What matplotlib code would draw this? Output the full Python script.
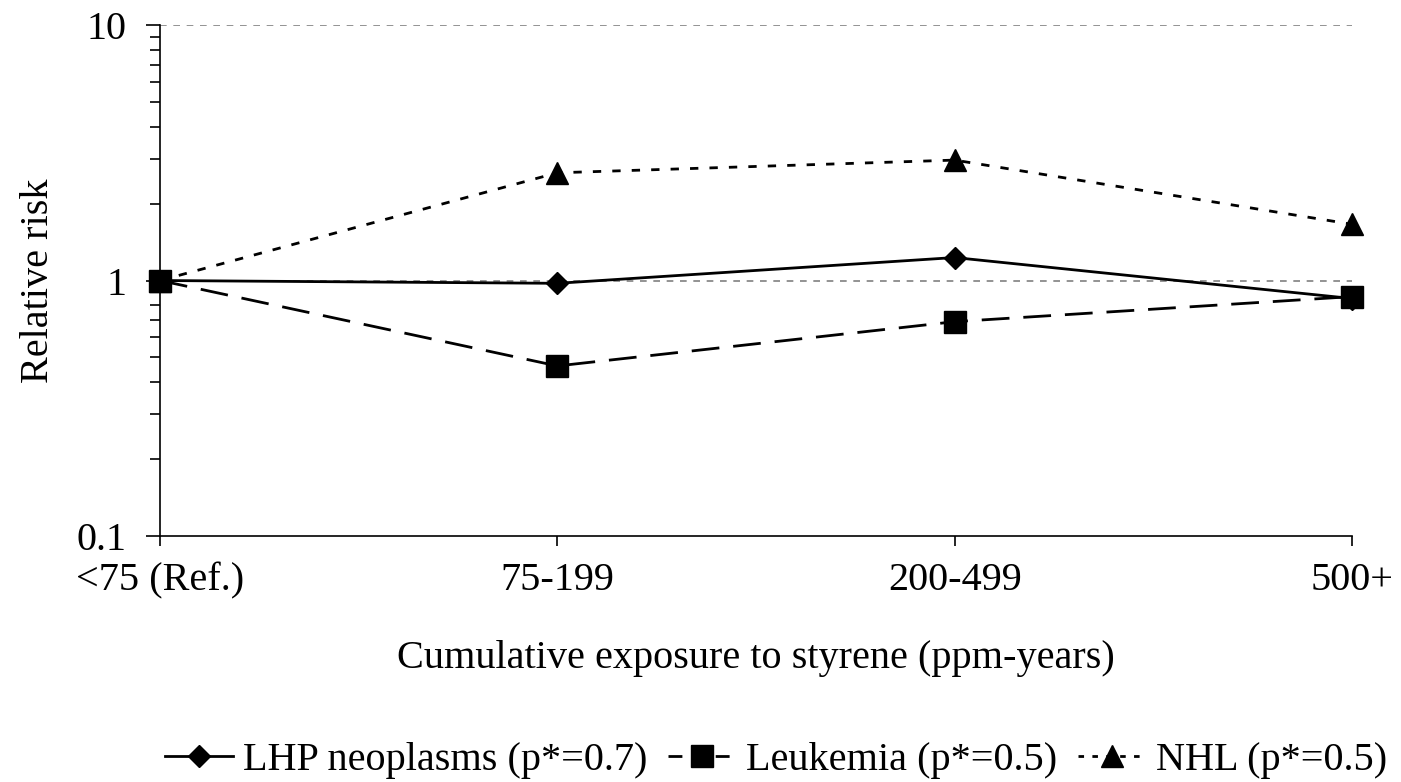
import matplotlib
matplotlib.use("Agg")
import matplotlib.pyplot as plt
from matplotlib.lines import Line2D
from matplotlib.ticker import FixedLocator, FixedFormatter, LogLocator, NullFormatter

categories = ["<75 (Ref.)", "75-199", "200-499", "500+"]
lhp = [1.0, 0.975, 1.23, 0.85]
leukemia = [1.0, 0.463, 0.69, 0.865]
nhl = [1.0, 2.64, 2.96, 1.66]
labels = ["LHP neoplasms (p*=0.7)", "Leukemia (p*=0.5)", "NHL (p*=0.5)"]
yticks = [0.1, 1, 10]
yticklabels = ["0.1", "1", "10"]

plt.rcParams['font.family'] = ['Liberation Serif', 'DejaVu Serif']
FS = 29

fig = plt.figure(figsize=(14.01, 7.82), dpi=100)
ax = fig.add_axes([0.1142, 0.3146, 0.965 - 0.1142, 0.968 - 0.3146])

x = list(range(len(categories)))
for v in yticks[1:]:
    ax.axhline(v, color='#808080', lw=1.2, ls=(0, (4, 4)), zorder=1)

l1, = ax.plot(x, lhp, color='black', lw=2, marker='D', markersize=11.5, zorder=3, clip_on=False)
l2, = ax.plot(x, leukemia, color='black', lw=2, ls=(0, (10, 5)), marker='s', markersize=16, zorder=3, clip_on=False)
l3, = ax.plot(x, nhl, color='black', lw=2, ls=(0, (3, 4)), marker='^', markersize=16, zorder=3, clip_on=False)

ax.set_yscale('log')
ax.set_ylim(0.1, 10)
ax.set_xlim(0, 3)
ax.yaxis.set_major_locator(FixedLocator(yticks))
ax.yaxis.set_major_formatter(FixedFormatter(yticklabels))
ax.yaxis.set_minor_locator(LogLocator(base=10, subs=range(2, 10)))
ax.yaxis.set_minor_formatter(NullFormatter())
ax.set_xticks(x)
ax.set_xticklabels(categories)

for s in ['top', 'right']:
    ax.spines[s].set_visible(False)
for s in ['left', 'bottom']:
    ax.spines[s].set_linewidth(1.2)

ax.tick_params(axis='y', which='major', direction='out', length=10, width=1.2, labelsize=FS, pad=14)
ax.tick_params(axis='y', which='minor', direction='out', length=7, width=1.2)
ax.tick_params(axis='x', which='major', direction='out', length=7, width=1.2, labelsize=FS, pad=12)

ax.set_ylabel("Relative risk", fontsize=FS, labelpad=14)
ax.set_xlabel("Cumulative exposure to styrene (ppm-years)", fontsize=FS, labelpad=29)

h1 = Line2D([], [], color='black', lw=2, marker='D', markersize=11.5)
h2 = Line2D([], [], color='black', lw=2, ls=(0, (5, 3.5)), marker='s', markersize=16)
h3 = Line2D([], [], color='black', lw=2, ls=(0, (2, 3)), marker='^', markersize=16)

fig.legend([h1, h2, h3], labels, loc='center', bbox_to_anchor=(776 / 1401, 1 - 760 / 782), ncol=3,
           frameon=False, fontsize=FS, handlelength=1.7, columnspacing=0.5, handletextpad=0.25,
           borderaxespad=0, borderpad=0)

fig.savefig("out.png", dpi=100)
